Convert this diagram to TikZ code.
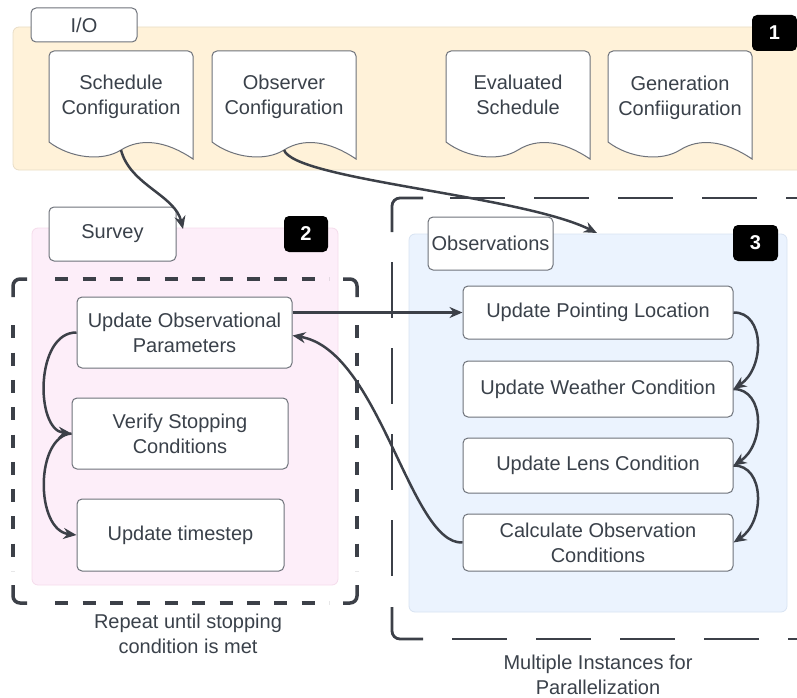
\documentclass[tikz,border=0pt]{standalone}
\usepackage{fontspec}
\setmainfont{Liberation Sans}
\usetikzlibrary{arrows.meta,decorations}
\definecolor{ink}{HTML}{3A414A}
\definecolor{linec}{HTML}{3C4048}
\definecolor{ioFill}{HTML}{FFF2D9}
\definecolor{ioLine}{HTML}{E8DCC6}
\definecolor{svFill}{HTML}{FDEEF9}
\definecolor{svLine}{HTML}{F5DCEB}
\definecolor{obFill}{HTML}{EBF3FE}
\definecolor{obLine}{HTML}{D8E3F2}
\definecolor{boxLine}{HTML}{6E727A}
\begin{document}
\begin{tikzpicture}[x=1pt,y=-1pt,
  every node/.style={font=\fontsize{20}{25}\selectfont, text=ink},
  box/.style={draw=boxLine, line width=1pt, fill=white, rounded corners=5pt, align=center, inner sep=0pt},
  badge/.style={fill=black, rounded corners=5pt, text=white, inner sep=0pt, font=\fontsize{20}{24}\selectfont\bfseries},
  conn/.style={draw=linec, line width=2.5pt, -{Stealth[length=13pt,width=11pt]}},
  sdash/.style={draw=linec, line width=3.5pt, dash pattern=on 13pt off 14pt, dash expand off},
  scorner/.style={draw=linec, line width=3.5pt, rounded corners=7pt},
  ldash/.style={draw=linec, line width=2.8pt, dash pattern=on 55pt off 29pt},
  lcorner/.style={draw=linec, line width=2.8pt, rounded corners=8pt},
  docline/.style={draw=boxLine, line width=1pt, fill=white},
  docshape/.pic={\draw[docline] (0,91) {[rounded corners=5pt] -- (0,0) -- (144,0)} -- (144,108)
      .. controls (116,89) and (91,87) .. (72,99)
      .. controls (53,111) and (21,107) .. (0,91) -- cycle;},
  lbl/.style={align=center, inner sep=0pt}
]
\useasboundingbox (0,0) rectangle (797,698);

% ---------- region 1: I/O ----------
\draw[ioLine, fill=ioFill, line width=0.8pt, rounded corners=6pt] (13,27) rectangle (810,170);
\node[box, minimum width=106pt, minimum height=34pt] (iotab) at (84,25) {I/O};
\node[badge, minimum width=45pt, minimum height=36pt] (b1) at (774.5,33) {1};

\pic at (49,51) {docshape};
\pic at (212,51) {docshape};
\pic at (446,51) {docshape};
\pic at (608,51) {docshape};
\node[lbl] (sc) at (121,97) {Schedule\\Configuration};
\node[lbl] (oc) at (284,97) {Observer\\Configuration};
\node[lbl] (es) at (518,95) {Evaluated\\Schedule};
\node[lbl] (gc) at (680,97.5) {Generation\\Confiiguration};
\coordinate (scb) at (121,150);
\coordinate (ocb) at (284,150);

% ---------- region 2: Survey ----------
\draw[svLine, fill=svFill, line width=0.8pt, rounded corners=6pt] (32,228) rectangle (338,585);
\node[box, minimum width=127pt, minimum height=54pt] (svtab) at (112.5,234) {Survey};
\node[badge, minimum width=44pt, minimum height=36pt] (b2) at (306,234) {2};
% dashed loop box
\draw[scorner] (13,297) -- (13,279) -- (27,279);
\draw[scorner] (343,279) -- (357,279) -- (357,297);
\draw[scorner] (13,585) -- (13,603) -- (27,603);
\draw[scorner] (343,603) -- (357,603) -- (357,585);
\draw[sdash] (41,279) -- (329,279);
\draw[sdash] (41,603) -- (329,603);
\draw[sdash] (13,311) -- (13,571);
\draw[sdash] (357,311) -- (357,571);
\node[box, minimum width=215pt, minimum height=71pt] (uop) at (184.5,332.5) {Update Observational\\Parameters};
\node[box, minimum width=216pt, minimum height=71pt] (vsc) at (180,433.5) {Verify Stopping\\Conditions};
\node[box, minimum width=207pt, minimum height=72pt] (ut) at (180.5,535) {Update timestep};
\node[lbl] (rep) at (188,634) {Repeat until stopping\\condition is met};
\coordinate (sventry) at (183,229);

% ---------- region 3: Observations ----------
\draw[lcorner] (392,232) -- (392,198) -- (423,198);
\draw[ldash] (450,198) -- (810,198);
\draw[ldash, dash pattern=on 56pt off 30pt] (392,262) -- (392,577);
\draw[lcorner] (392,607) -- (392,639) -- (423,639);
\draw[ldash] (452,639) -- (810,639);
\draw[obLine, fill=obFill, line width=0.8pt, rounded corners=6pt] (409,234) rectangle (787,612);
\node[box, minimum width=125pt, minimum height=53pt] (obtab) at (490.5,243.5) {Observations};
\node[badge, minimum width=45pt, minimum height=36pt] (b3) at (755.5,243) {3};
\node[box, minimum width=270pt, minimum height=53pt] (pl) at (598,312.5) {Update Pointing Location};
\node[box, minimum width=270pt, minimum height=56pt] (wc) at (598,389) {Update Weather Condition};
\node[box, minimum width=270pt, minimum height=55pt] (lc) at (598,465.5) {Update Lens Condition};
\node[box, minimum width=270pt, minimum height=57pt] (co) at (598,542.5) {Calculate Observation\\Conditions};
\node[lbl] (mi) at (598,675) {Multiple Instances for\\Parallelization};
\coordinate (obentry) at (597,233);

% ---------- connectors ----------
\draw[conn] (scb) .. controls (130,185) and (175,195) .. (sventry);
\draw[conn] (ocb) .. controls (295,180) and (520,195) .. (obentry);
\draw[conn] (uop.east |- pl.west) -- (pl.west);
\draw[conn] (pl.east) .. controls (765,312) and (765,368) .. (wc.east);
\draw[conn] (wc.east) .. controls (765,389) and (765,445) .. (lc.east);
\draw[conn] (lc.east) .. controls (765,465) and (765,522) .. (co.east);
\draw[conn] (co.west) .. controls (410,545) and (380,350) .. ([yshift=-3pt]uop.east);
\draw[conn] (uop.west) .. controls (35,332) and (35,430) .. (vsc.west);
\draw[conn] (vsc.west) .. controls (35,436) and (35,530) .. (ut.west);
\end{tikzpicture}
\end{document}
